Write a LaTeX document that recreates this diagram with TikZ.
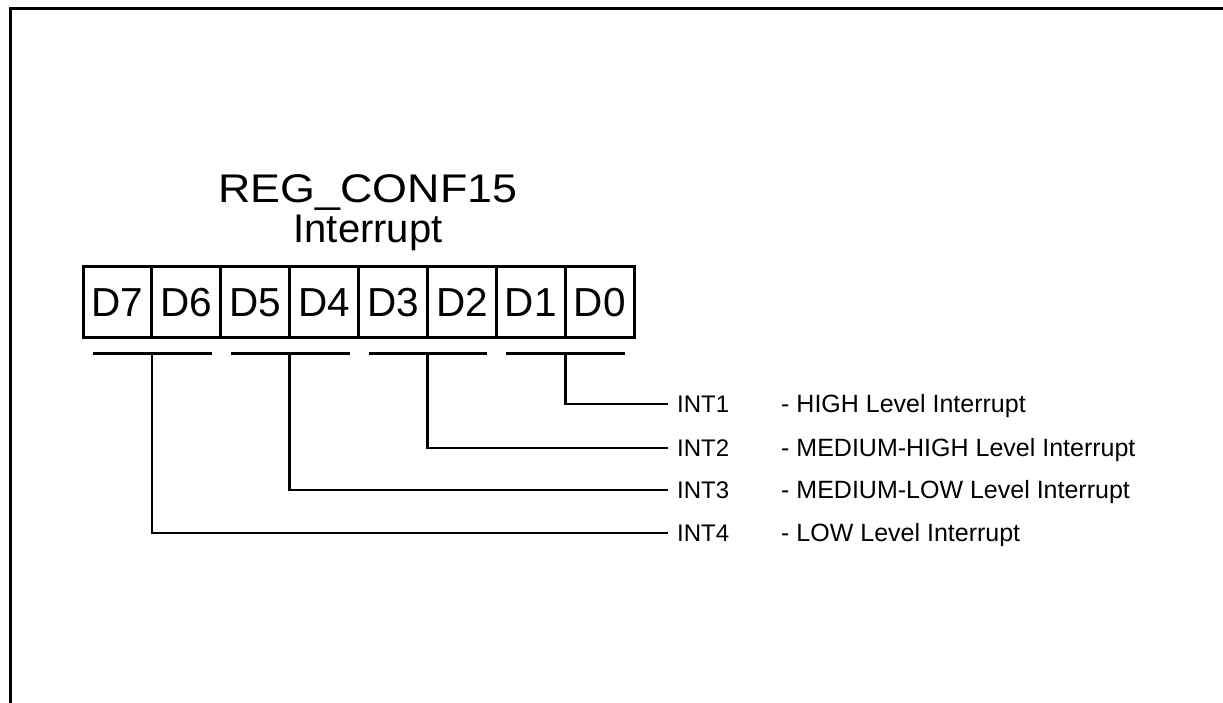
\documentclass[tikz,border=0pt]{standalone}
\usepackage{fontspec}
\setmainfont{Liberation Sans}
\usetikzlibrary{positioning}
\tikzset{
  cell/.style={draw, line width=3pt, minimum width=68.9pt, minimum height=70pt,
    inner sep=0pt, outer sep=0pt, text height=29pt, text depth=0pt,
    font=\fontsize{40.5}{40}\selectfont},
  bar/.style={line width=3pt},
  wire/.style={line width=2.8pt},
  intlbl/.style={anchor=west, inner xsep=9pt, inner ysep=0pt, font=\fontsize{24}{24}\selectfont},
  desc/.style={anchor=base west, inner sep=0pt, font=\fontsize{25}{25}\selectfont},
}
\begin{document}
\begin{tikzpicture}[x=1pt, y=-1pt]
  \useasboundingbox (0,0) rectangle (1223,703);
  % frame
  \draw[line width=3pt] (10,703) -- (10,9) -- (1223,9);

  \node[anchor=north, inner sep=0pt, align=center, font=\fontsize{40}{40}\selectfont]
    (title) at (368,174) {\scalebox{1.12}[1]{REG\_CONF15}\\Interrupt};

  % register bits
  \foreach \i [count=\k from 0] in {7,...,0}
    \node[cell] (d\i) at ({117.45+68.9*\k},302) {D\i};

  % output labels
  \node[intlbl] (int1) at (668,404) {INT1};
  \node[intlbl] (int2) at (668,448) {INT2};
  \node[intlbl] (int3) at (668,490) {INT3};
  \node[intlbl] (int4) at (668,533) {INT4};
  \node[desc] (lvl1) at ([xshift=113pt]int1.base west) {- HIGH Level Interrupt};
  \node[desc] (lvl2) at ([xshift=113pt]int2.base west) {- MEDIUM-HIGH Level Interrupt};
  \node[desc] (lvl3) at ([xshift=113pt]int3.base west) {- MEDIUM-LOW Level Interrupt};
  \node[desc] (lvl4) at ([xshift=113pt]int4.base west) {- LOW Level Interrupt};

  % bit pairs
  \foreach \a/\b/\n in {7/6/4, 5/4/3, 3/2/2, 1/0/1} {
    \draw[bar] ([xshift=10pt, yshift=-16pt]d\a.south west) -- ([xshift=-9pt, yshift=-16pt]d\b.south east);
    \coordinate (p\n) at ([yshift=-16pt]d\a.south east);
    \draw[wire] (p\n) |- (int\n.west);
  }
\end{tikzpicture}
\end{document}
